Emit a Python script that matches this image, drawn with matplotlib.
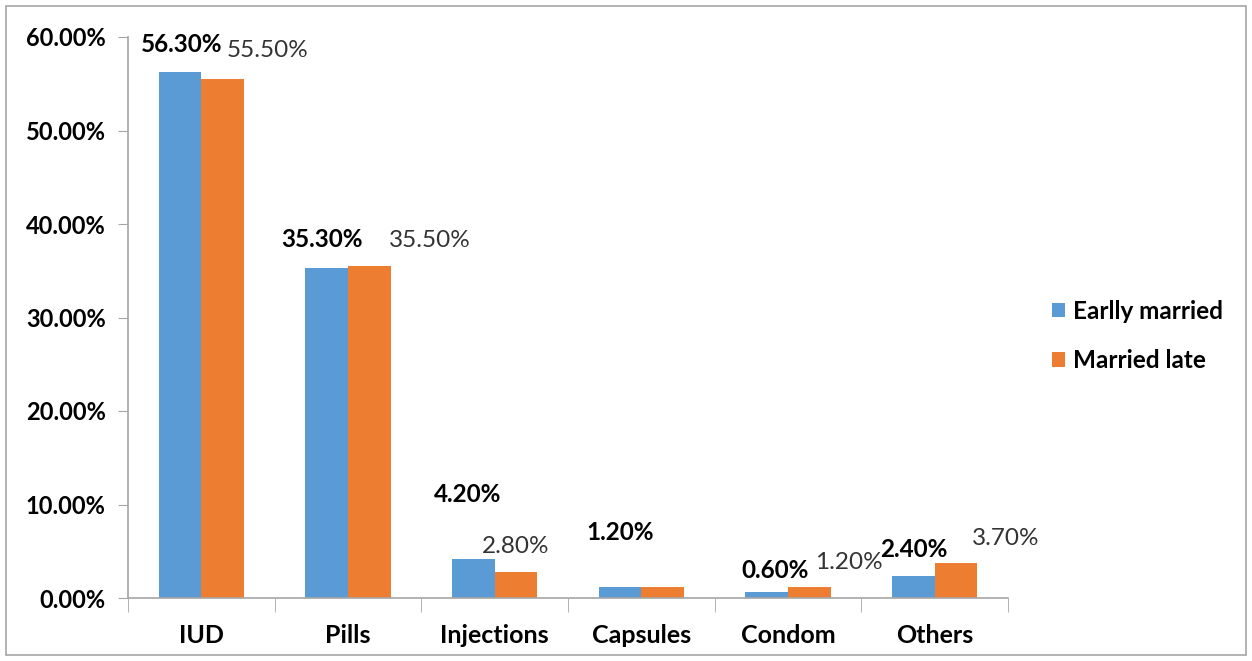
import matplotlib
matplotlib.use("Agg")
import matplotlib.pyplot as plt
from matplotlib.patches import Rectangle
import numpy as np

categories = ["IUD", "Pills", "Injections", "Capsules", "Condom", "Others"]
early_married = [56.3, 35.3, 4.2, 1.2, 0.6, 2.4]
married_late = [55.5, 35.5, 2.8, 1.2, 1.2, 3.7]
series_names = ["Earlly married", "Married late"]
yticks = [0, 10, 20, 30, 40, 50, 60]

# label offsets (pixels) for each bar label
early_off = [(2, 27), (-5, 28), (-6, 64), (0, 54), (8, 22), (0, 26)]
late_off = [(45, 29), (61, 26), (0, 25), None, (40, 24), (50, 25)]

blue = "#5B9BD5"
orange = "#ED7D31"
spine_c = "#A6A6A6"

plt.rcParams['font.family'] = ['Lato', 'DejaVu Sans']

fig = plt.figure(figsize=(12.52, 6.61), dpi=100)
ax = fig.add_axes([128/1252, 63/661, 880/1252, 561/661])

x = np.arange(len(categories))
w = 0.29
b1 = ax.bar(x - w/2, early_married, w, color=blue, label=series_names[0])
b2 = ax.bar(x + w/2, married_late, w, color=orange, label=series_names[1])

for i, v in enumerate(early_married):
    dx, dy = early_off[i]
    ax.annotate(f"{v:.2f}%", (x[i] - w/2, v), xytext=(dx, dy), textcoords='offset pixels',
                ha='center', va='center', fontsize=17.5, fontweight='bold', color='#000000')
for i, v in enumerate(married_late):
    if late_off[i] is None:
        continue
    dx, dy = late_off[i]
    ax.annotate(f"{v:.2f}%", (x[i] + w/2, v), xytext=(dx, dy), textcoords='offset pixels',
                ha='center', va='center', fontsize=17.5, color='#333333')

ax.set_xlim(-0.5, len(categories) - 0.5)
ax.set_ylim(0, 60)
ax.set_yticks(yticks)
ax.set_yticklabels([f"{t:.2f}%" for t in yticks], fontsize=17, fontweight='bold')
ax.set_xticks(x)
ax.set_xticklabels(categories, fontsize=18, fontweight='bold')
ax.tick_params(axis='x', length=0, pad=19)
ax.set_xticks(np.arange(-0.5, len(categories)), minor=True)
ax.tick_params(axis='x', which='minor', length=10, color=spine_c, direction='out')
ax.tick_params(axis='y', length=7, color=spine_c, pad=9)

for s in ['top', 'right']:
    ax.spines[s].set_visible(False)
for s in ['left', 'bottom']:
    ax.spines[s].set_color(spine_c)
    ax.spines[s].set_linewidth(1.2)

leg = fig.legend(handles=[b1, b2], labels=series_names, loc='center left',
                 bbox_to_anchor=(1030/1252, 1 - 336/661), frameon=False,
                 prop={'size': 17.5, 'weight': 'bold'}, handlelength=0.55, handleheight=0.55,
                 labelspacing=1.1, handletextpad=0.3)

fig.patches.append(Rectangle((6/1252, 6/661), 1240/1252, 649/661, transform=fig.transFigure,
                             fill=False, edgecolor='#A6A6A6', linewidth=1.2))

fig.savefig("out.png", dpi=100)
